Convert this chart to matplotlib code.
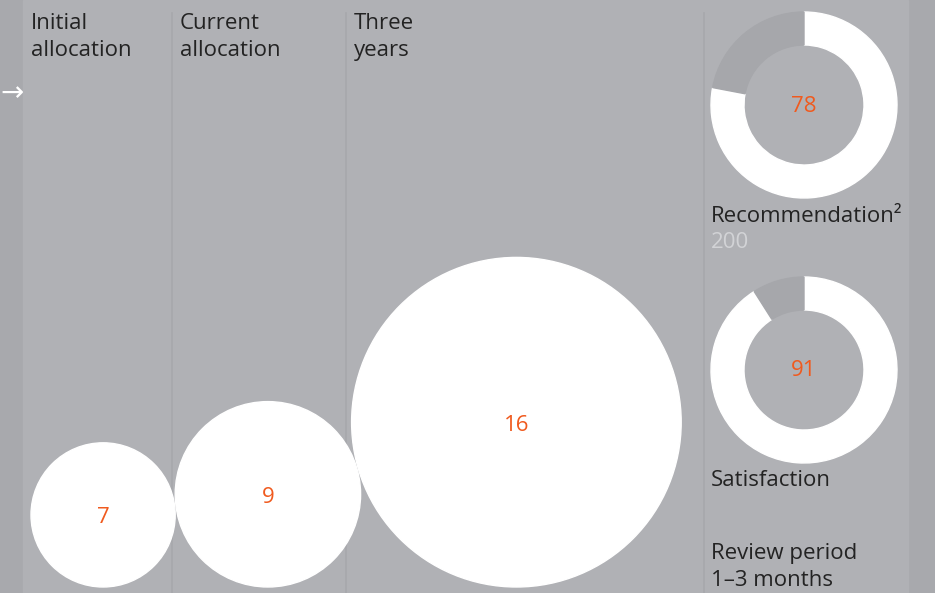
import matplotlib.pyplot as plt
from matplotlib.patches import Circle, Wedge, Rectangle

plt.rcParams['font.family'] = ['Open Sans', 'DejaVu Sans']

# data
bubble_labels = ['Initial\nallocation', 'Current\nallocation', 'Three\nyears']
bubble_values = [7, 9, 16]
donut_labels = ['Recommendation\u00b2', 'Satisfaction']
donut_values = [78, 91]
donut_note = '200'
footer_text = 'Review period\n1\u20133 months'

OUTER = '#a8a9ad'
PANEL = '#b0b1b5'
RING_BG = '#a6a7ab'
ORANGE = '#f05a1e'
DARK = '#232323'

fig = plt.figure(figsize=(9.35, 5.93), dpi=100)
fig.patch.set_facecolor(OUTER)
ax = fig.add_axes([0, 0, 1, 1])
ax.set_xlim(0, 935)
ax.set_ylim(593, 0)
ax.set_aspect('equal')
ax.axis('off')

# panel and column dividers
ax.add_patch(Rectangle((23, 0), 885, 593, color=PANEL, zorder=0))
for x in [172, 346, 704]:
    ax.plot([x, x], [13, 593], color='#a7a8ac', lw=1.2, zorder=1)

# column headers
for x, lab in zip([31, 180, 354], bubble_labels):
    ax.text(x, 13, lab, ha='left', va='top', fontsize=16, color=DARK,
            linespacing=1.35)

ax.text(0, 93, '\u2192', ha='left', va='center', fontsize=20, color='white',
        family='DejaVu Sans')

# bubbles: radius proportional to value, bottoms aligned
scale = 10.3
base = 587
gaps = [0, 0, -9]
left = 31
for val, gap in zip(bubble_values, gaps):
    r = val * scale
    left += gap
    cx = left + r
    cy = base - r
    ax.add_patch(Circle((cx, cy), r, color='white', zorder=2))
    ax.text(cx, cy + 3, str(val), ha='center', va='center', fontsize=16,
            color=ORANGE, zorder=3)
    left = cx + r

# donuts (y axis is inverted: 270 deg is the top, increasing angle runs clockwise)
r_out, width = 93, 33
for cy, val, lab in zip([105, 370], donut_values, donut_labels):
    cx = 804
    ang = 360 * val / 100
    ax.add_patch(Wedge((cx, cy), r_out, 270, 270 + ang, width=width,
                       color='white', zorder=2))
    ax.add_patch(Wedge((cx, cy), r_out, 270 + ang, 270 + 360, width=width,
                       color=RING_BG, zorder=2))
    ax.text(cx, cy + 1, str(val), ha='center', va='center', fontsize=16,
            color=ORANGE, zorder=3)

ax.text(711, 216, donut_labels[0], ha='left', va='center', fontsize=16, color=DARK)
ax.text(711, 243, donut_note, ha='left', va='center', fontsize=16, color='#d2d3d6')
ax.text(711, 481, donut_labels[1], ha='left', va='center', fontsize=16, color=DARK)
ax.text(711, 567, footer_text, ha='left', va='center', fontsize=16, color=DARK,
        linespacing=1.35)

fig.savefig('out.png', dpi=100, facecolor=fig.get_facecolor())
